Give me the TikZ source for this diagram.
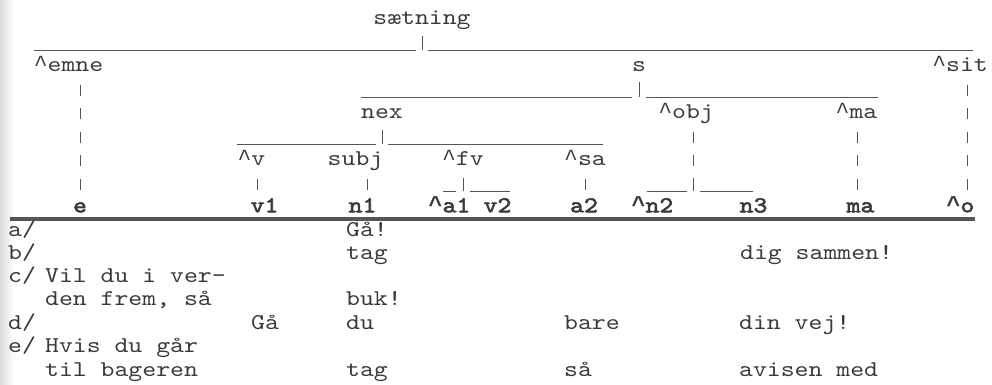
\documentclass[tikz,border=0pt]{standalone}
\usepackage{fontspec}
\newfontfamily\tmono{lmmono10-regular.otf}[FakeStretch=1.17]
\newfontfamily\tbold{lmmono10-regular.otf}[FakeStretch=1.17,FakeBold=2.6]
\newfontfamily\libmono{Liberation Mono}
\definecolor{ink}{HTML}{3a3a3a}
\definecolor{rulec}{HTML}{555555}
\newcommand{\ca}{{\libmono\fontsize{23.1}{23.1}\selectfont\textasciicircum}}
\newcommand{\cab}{{\libmono\bfseries\fontsize{23.1}{23.1}\selectfont\textasciicircum}}
\begin{document}
\begin{tikzpicture}[x=1pt,y=-1pt,
  lbl/.style={inner sep=0pt, text height=13pt, text depth=3.2pt, font=\tmono\fontsize{22.6}{22.6}\selectfont, text=ink},
  bl/.style={lbl, font=\tbold\fontsize{22.6}{22.6}\selectfont},
  ex/.style={lbl, anchor=west},
  vbar/.style={draw=rulec, line width=0.9pt, dash pattern=on 11pt off 12.4pt, shorten <=17.9pt, shorten >=17.9pt},
  rule/.style={draw=rulec, line width=0.9pt},
  thick rule/.style={draw=rulec, line width=3.4pt},
]
\useasboundingbox (0,0) rectangle (992,385);
\shade[left color=black!14, right color=white] (0,0) rectangle (14,385);

% ---------- tree labels ----------
\node[lbl] (saetning) at (422,20) {sætning};
\node[lbl] (emne) at (68.5,67) {\ca emne};
\node[lbl] (s) at (639,67) {s};
\node[lbl] (sit) at (960,67) {\ca sit};
\node[lbl] (nex) at (382,113.8) {nex};
\node[lbl] (obj) at (686,113.8) {\ca obj};
\node[lbl] (mah) at (856.5,113.8) {\ca ma};
\node[lbl] (v) at (251.5,160.6) {\ca v};
\node[lbl] (subj) at (355.5,160.6) {subj};
\node[lbl] (fv) at (463,160.6) {\ca fv};
\node[lbl] (sa) at (585,160.6) {\ca sa};

% ---------- bold bottom row ----------
\node[bl] (e) at (80,207.4) {e};
\node[bl] (v1) at (264.5,207.4) {v1};
\node[bl] (n1) at (362.5,207.4) {n1};
\node[bl] (a1) at (449.5,207.4) {\cab a1};
\node[bl] (v2) at (497.5,207.4) {v2};
\node[bl] (a2) at (584,207.4) {a2};
\node[bl] (n2) at (652.5,207.4) {\cab n2};
\node[bl] (n3) at (753.5,207.4) {n3};
\node[bl] (ma) at (860.5,207.4) {ma};
\node[bl] (o) at (960.5,207.4) {\cab o};

% ---------- column coordinates for bars ----------
\coordinate (xe) at (80,0);
\coordinate (xsit) at (967,0);
\coordinate (xobj) at (693,0);
\coordinate (xma) at (857,0);
\coordinate (xv) at (257.5,0);
\coordinate (xsubj) at (367,0);
\coordinate (xsa) at (585,0);
\coordinate (xfv) at (463,0);
\coordinate (objend) at (693,184);

% ---------- brackets ----------
% saetning
\draw[rule] (emne.west |- 0,50.5) -- (416,50.5) (428,50.5) -- (973,50.5);
\draw[rule] (saetning.center |- 0,36.5) -- (saetning.center |- 0,50.5);
% s
\draw[rule] (nex.west |- 0,97.4) -- (632,97.4) (646,97.4) -- (878,97.4);
\draw[rule] (s.center |- 0,82.4) -- (s.center |- 0,97.4);
% nex
\draw[rule] (237,144.2) -- (376,144.2) (388,144.2) -- (603,144.2);
\draw[rule] (nex.center |- 0,129.7) -- (nex.center |- 0,144.2);
% fv
\draw[rule] (443,191) -- (456,191) (470,191) -- (510,191);
\draw[rule] (xfv |- 0,177.5) -- (xfv |- 0,191);
% obj
\draw[rule] (647,191) -- (687,191) (700,191) -- (753,191);
\draw[rule] (xobj |- 0,177.5) -- (xobj |- 0,191);

% ---------- vertical bars ----------
\draw[vbar] (xe |- emne) -- (xe |- e);
\draw[vbar] (xsit |- sit) -- (xsit |- o);
\draw[vbar] (xobj |- obj) -- (objend);
\draw[vbar] (xma |- mah) -- (xma |- ma);
\draw[vbar] (xv |- v) -- (xv |- v1);
\draw[vbar] (xsubj |- subj) -- (xsubj |- n1);
\draw[vbar] (xsa |- sa) -- (xsa |- a2);

% ---------- thick rule ----------
\draw[thick rule] (10,219) -- (975,219);

% ---------- examples ----------
\node[ex] (la) at (8,231.3) {a/};
\node[ex] (a-n1) at (346,231.3) {Gå!};
\node[ex] (lb) at (8,254.2) {b/};
\node[ex] (b-n1) at (346,254.2) {tag};
\node[ex] (b-n3) at (740,254.2) {dig sammen!};
\node[ex] (lc) at (8,277.6) {c/};
\node[ex] (c-e1) at (45,277.6) {Vil du i ver-};
\node[ex] (c-e2) at (45,301) {den frem, så};
\node[ex] (c-n1) at (346,301) {buk!};
\node[ex] (ld) at (8,324.4) {d/};
\node[ex] (d-v1) at (251,324.4) {Gå};
\node[ex] (d-n1) at (346,324.4) {du};
\node[ex] (d-a2) at (564,324.4) {bare};
\node[ex] (d-n3) at (739,324.4) {din vej!};
\node[ex] (le) at (8,347.8) {e/};
\node[ex] (e-e1) at (45,347.8) {Hvis du går};
\node[ex] (e-e2) at (45,371.2) {til bageren};
\node[ex] (e-n1) at (346,371.2) {tag};
\node[ex] (e-a2) at (564,371.2) {så};
\node[ex] (e-n3) at (739,371.2) {avisen med};
\end{tikzpicture}
\end{document}
